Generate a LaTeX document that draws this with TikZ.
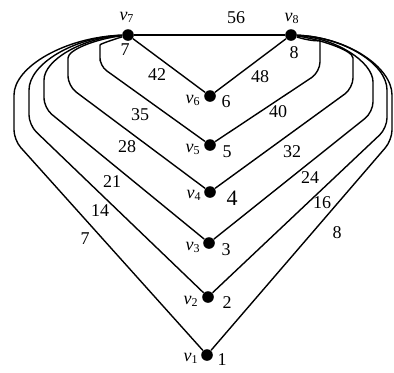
\documentclass[tikz,border=0pt]{standalone}
\usepackage{fontspec}
\setmainfont{Liberation Serif}
\newcommand{\vx}[1]{\textit{v}\textsubscript{#1}}

\begin{document}
\begin{tikzpicture}[
  x=0.5pt, y=-0.5pt,
  font=\fontsize{9}{10}\selectfont,
  dot/.style={circle, fill=black, inner sep=0pt, minimum size=5.8pt},
  edge/.style={line width=0.7pt, rounded corners=5pt},
  num/.style={inner sep=1pt},
  ]
\useasboundingbox (0,0) rectangle (394,372);
% vertices
\node[dot] (v7) at (128,35) {};
\node[dot] (v8) at (291,35) {};
\node[dot] (v6) at (210,96) {};
\node[dot] (v5) at (210,145) {};
\node[dot] (v4) at (210,192) {};
\node[dot] (v3) at (209,243) {};
\node[dot] (v2) at (208,297) {};
\node[dot] (v1) at (207,355) {};
% vertex names and numbers
\node (t7) at (127,17) {\vx{7}};
\node (k7) at (125,50) {7};
\node (t8) at (292,18) {\vx{8}};
\node (k8) at (294,53) {8};
\node (t6) at (193,100) {\vx{6}};
\node (k6) at (226,102) {6};
\node (t5) at (193,149) {\vx{5}};
\node (k5) at (227,152) {5};
\node (t4) at (194,195) {\vx{4}};
\node[font=\fontsize{11}{12}\selectfont] (k4) at (232,198) {4};
\node (t3) at (193,247) {\vx{3}};
\node (k3) at (226,250) {3};
\node (t2) at (191,301) {\vx{2}};
\node (k2) at (227,303) {2};
\node (t1) at (191,358) {\vx{1}};
\node (k1) at (222,360) {1};
% straight edges
\draw[edge] (v7) -- (v8);
\draw[edge] (v7) -- (v6);
\draw[edge] (v8) -- (v6);
% edges round the left
\draw[edge, rounded corners=4pt] (v7) .. controls (112,40) and (100,44) .. (100,53) -- (100,66) -- (v5);
\draw[edge] (v7) .. controls (95,39) and (68,50) .. (68,68) -- (68,86) -- (v4);
\draw[edge] (v7) .. controls (82,38) and (44,60) .. (44,90) -- (44,108) -- (v3);
\draw[edge] (v7) .. controls (74,37) and (29,64) .. (29,100) -- (29,125) -- (v2);
\draw[edge] (v7) .. controls (65,37) and (14,67) .. (14,105) -- (14,140) -- (v1);
% edges round the right
\draw[edge] (v8) .. controls (306,40) and (320,42) .. (320,50) -- (320,72) -- (v5);
\draw[edge] (v8) .. controls (318,39) and (353,50) .. (353,68) -- (353,88) -- (v4);
\draw[edge] (v8) .. controls (336,38) and (373,62) .. (373,92) -- (373,112) -- (v3);
\draw[edge] (v8) .. controls (344,37) and (387,64) .. (387,100) -- (387,128) -- (v2);
\draw[edge] (v8) .. controls (347,37) and (392,67) .. (392,105) -- (392,140) -- (v1);
% edge weights
\node[num] (w56) at (236,18) {56};
\node[num] (w42) at (157,75) {42};
\node[num] (w35) at (140,115) {35};
\node[num] (w28) at (127,147) {28};
\node[num] (w21) at (112,182) {21};
\node[num] (w14) at (100,211) {14};
\node[num] (w7)  at (85,239) {7};
\node[num] (w48) at (260,77) {48};
\node[num] (w40) at (278,112) {40};
\node[num] (w32) at (292,152) {32};
\node[num] (w24) at (310,178) {24};
\node[num] (w16) at (322,203) {16};
\node[num] (w8)  at (337,233) {8};
\end{tikzpicture}
\end{document}
